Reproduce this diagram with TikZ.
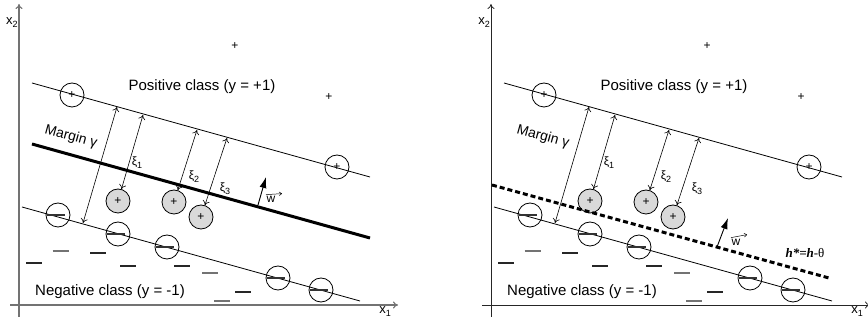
\documentclass[tikz,border=0pt]{standalone}
\usepackage{fontspec}
\setmainfont{Liberation Sans}
\newfontfamily\hserif{Liberation Serif}
\usetikzlibrary{arrows.meta}
\definecolor{ptfill}{gray}{0.85}
\newcommand\sbs[1]{\raisebox{-0.45ex}{\fontsize{9}{9}\selectfont #1}}
\newcommand\dashrule[1]{\textcolor{#1}{\rule[-0.6pt]{16pt}{1.2pt}}}
\newcommand\minusrule{\kern-4pt\textcolor{black!80}{\rule[-0.6pt]{18pt}{1.1pt}}}
\tikzset{
  lbl/.style={font=\fontsize{15}{15}\selectfont, inner sep=0pt},
  axlbl/.style={font=\fontsize{13}{13}\selectfont, inner sep=0pt},
  xilbl/.style={font=\fontsize{12}{12}\selectfont, inner sep=0pt},
  marginline/.style={line width=0.8pt},
  poscirc/.style={circle, draw, line width=0.8pt, minimum size=24pt, inner sep=0pt, font=\fontsize{12}{12}\selectfont},
  slackcirc/.style={poscirc, fill=ptfill},
  negcirc/.style={circle, draw, line width=0.8pt, minimum size=24pt, inner sep=0pt},
  plusmark/.style={inner sep=0pt, font=\fontsize{12}{12}\selectfont},
  dashmark/.style={inner sep=0pt},
  dimarrow/.style={line width=0.6pt, {To[length=4.5pt,width=7pt]}-{To[length=4.5pt,width=7pt]}},
  warrow/.style={line width=0.9pt, -{Latex[length=11pt,width=7pt]}},
  wvec/.style={line width=0.5pt, -{To[length=3pt,width=4pt]}},
}
\newcommand\commonpanel{%
  % axes
  \coordinate (Yb) at (19,317); \coordinate (Yt) at (19,4);
  \coordinate (Xl) at (10,305); \coordinate (Xr) at (398,305);
  \draw[axisline] (Yb) -- (Yt);
  \draw[axisline] (Xl) -- (Xr);
  \node[axlbl] (x2) at (12,23) {x\sbs{2}};
  \node[axlbl] (x1) at (385,312) {x\sbs{1}};
  % margin lines
  \coordinate (U1) at (32,83); \coordinate (U2) at (370,177);
  \coordinate (N1) at (22,207); \coordinate (N2) at (360,301);
  \draw[marginline] (U1) -- (U2);
  \draw[marginline] (N1) -- (N2);
  % class labels
  \node[lbl] (pc) at (202,87) {Positive class (y = +1)};
  \node[lbl] (nc) at (110,292) {Negative class (y = -1)};
  \node[font=\fontsize{14}{14}\selectfont, inner sep=0pt, rotate=-15.5] (mg) at (71,137) {Margin γ};
  % positive points
  \node[plusmark] (p1) at (235,46) {+};
  \node[plusmark] (p2) at (329,97) {+};
  \node[poscirc] (sv1) at (72,95) {+};
  \node[poscirc] (sv2) at (337,167) {+};
  \node[slackcirc] (s1) at (118,201) {+};
  \node[slackcirc] (s2) at (174,202) {+};
  \node[slackcirc] (s3) at (201,217) {+};
  % negative support vectors
  \node[negcirc] (n1) at (58,215) {\minusrule};
  \node[negcirc] (n2) at (118,234) {\minusrule};
  \node[negcirc] (n3) at (167,247) {\minusrule};
  \node[negcirc] (n4) at (278,278) {\minusrule};
  \node[negcirc] (n5) at (321,290) {\minusrule};
  % negative points
  \node[dashmark] (d1) at (60.5,251) {\dashrule{black!55}};
  \node[dashmark] (d2) at (98,253) {\dashrule{black!85}};
  \node[dashmark] (d3) at (34,263) {\dashrule{black!85}};
  \node[dashmark] (d4) at (128,266) {\dashrule{black!85}};
  \node[dashmark] (d5) at (182,266) {\dashrule{black!85}};
  \node[dashmark] (d6) at (210,273) {\dashrule{black!55}};
  \node[dashmark] (d7) at (243,292) {\dashrule{black!85}};
  \node[dashmark] (d8) at (222,301) {\dashrule{black!55}};
  % margin arrow
  \coordinate (ma) at (117,107); \coordinate (mb) at (83,223);
  \draw[dimarrow] (mb) -- (ma);
  % slack arrows
  \coordinate (t1) at (143,115); \coordinate (t2) at (197,130); \coordinate (t3) at (227,138);
  \draw[dimarrow] (t1) -- (s1);
  \draw[dimarrow] (t2) -- (s2);
  \draw[dimarrow] (t3) -- (s3);
  \node[xilbl] (xi1) at (137,163) {ξ\sbs{1}};
  \node[xilbl] (xi2) at (194,177) {ξ\sbs{2}};
  \node[xilbl] (xi3) at (225,189) {ξ\sbs{3}};
}
\begin{document}
\begin{tikzpicture}[x=1pt,y=-1pt]
\useasboundingbox (0,0) rectangle (868,320);
% left panel
\begin{scope}[name prefix=L-, axisline/.style={line width=1.1pt, draw=black!55, -{To[length=5pt,width=7pt]}}]
  \commonpanel
  \coordinate (H1) at (32,144); \coordinate (H2) at (370,238);
  \draw[line width=3pt] (H1) -- (H2);
  \coordinate (wb) at (258,205); \coordinate (wt) at (266,177);
  \draw[warrow] (wb) -- (wt);
  \node[xilbl] (wl) at (271,199) {w};
  \draw[wvec] ([xshift=-5pt,yshift=1pt]wl.north) -- ([xshift=11pt,yshift=2pt]wl.north);
\end{scope}
% right panel
\begin{scope}[shift={(472,0)}, name prefix=R-, axisline/.style={line width=0.8pt, draw=black!85, -{To[length=5pt,width=7pt]}}]
  \commonpanel
  \coordinate (H1) at (20,185); \coordinate (H2) at (357,278);
  \draw[line width=3pt, dash pattern=on 5pt off 3pt] (H1) -- (H2);
  \coordinate (wb) at (245,247); \coordinate (wt) at (256,218);
  \draw[warrow] (wb) -- (wt);
  \node[xilbl] (wl) at (264,242) {w};
  \draw[wvec] ([xshift=-5pt,yshift=1pt]wl.north) -- ([xshift=11pt,yshift=4pt]wl.north);
  \node[font=\hserif\fontsize{13}{13}\selectfont, inner sep=0pt] (hl) at (333,253) {\textbf{\textit{h*=h}}-θ};
\end{scope}
\end{tikzpicture}
\end{document}
